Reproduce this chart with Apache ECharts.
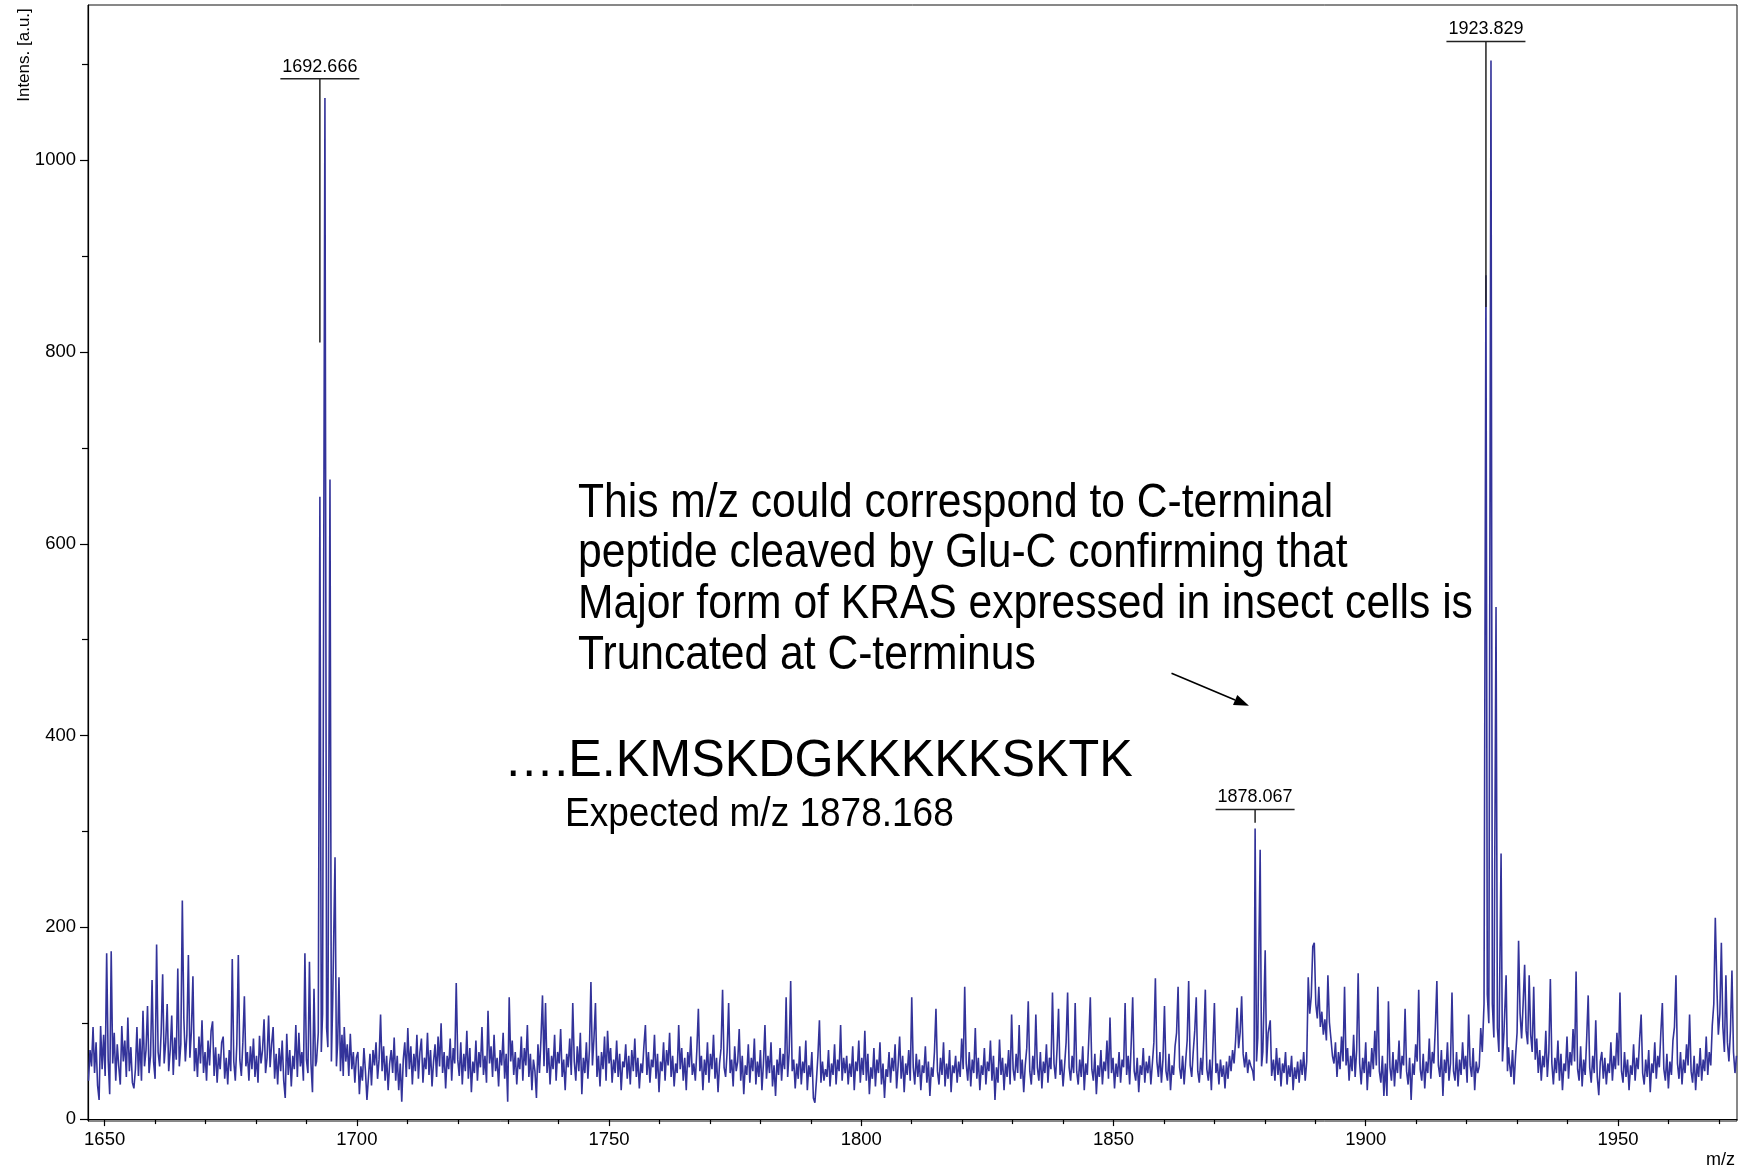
<!DOCTYPE html>
<html>
<head>
<meta charset="utf-8">
<title>MALDI spectrum m/z 1650-1970</title>
<script src="https://cdn.jsdelivr.net/npm/echarts@6/dist/echarts.min.js"></script>
<style>
  html, body { margin: 0; padding: 0; background: #fff; }
  #chart { width: 1738px; height: 1168px; }
</style>
</head>
<body>
<div id="chart"></div>
<script>
// ---- Spectrum data ----------------------------------------------------------
// Baseline trace sampled every 0.3 m/z; each block holds 100 samples starting
// at mzStart + 30 * blockIndex. null = covered by an isotope-cluster table below.
const mzStart = 1646.8;
const mzStep = 0.3;

const noise1646 = [
  40, 72, 55, 96, 48, 80, 35, 20, 97, 52,
  88, 45, 173, 62, 26, 175, 58, 90, 40, 78,
  55, 36, 97, 60, 82, 44, 106, 50, 75, 38,
  32, 52, 96, 45, 84, 40, 113, 55, 72, 118,
  48, 66, 145, 60, 42, 182, 70, 55, 90, 151,
  58, 80, 120, 50, 72, 108, 46, 85, 62, 157,
  55, 78, 228, 105, 60, 88, 171, 64, 92, 149,
  50, 74, 44, 86, 58, 103, 48, 70, 40, 82,
  56, 92, 102, 45, 75, 38, 68, 52, 80, 86,
  42, 64, 36, 72, 50, 167, 60, 40, 78, 171
];
const noise1676 = [
  62, 45, 80, 128, 55, 70, 40, 76, 52, 84,
  44, 66, 38, 87, 58, 72, 104, 48, 64, 108,
  54, 78, 96, 42, 68, 36, 74, 50, 82, 40,
  22, 89, 46, 72, 34, 66, 52, 98, 44, 90,
  55, 70, 40, 173, 62, 48, 164, 58, 28, 136,
  55, null, null, null, null, null, null, null, null, null,
  null, null, null, null, null, null, null, null, null, 96,
  60, 78, 45, 89, 52, 70, 38, 64, 70, 26,
  55, 40, 74, 50, 20, 44, 68, 35, 72, 56,
  80, 42, 62, 109, 50, 76, 40, 66, 30, 58
];
const noise1706 = [
  72, 48, 85, 40, 66, 30, 58, 18, 62, 80,
  44, 95, 52, 76, 36, 68, 50, 88, 42, 70,
  84, 38, 64, 52, 90, 46, 72, 34, 60, 78,
  44, 86, 55, 100, 48, 70, 32, 66, 52, 84,
  40, 74, 58, 142, 62, 45, 80, 36, 68, 50,
  92, 42, 74, 28, 60, 48, 82, 40, 70, 54,
  96, 46, 66, 38, 113, 58, 76, 44, 88, 50,
  64, 34, 72, 56, 90, 42, 68, 18, 127, 60,
  82, 46, 70, 36, 64, 52, 86, 40, 74, 56,
  98, 44, 68, 30, 62, 50, 22, 78, 48, 84
];
const noise1736 = [
  129, 55, 121, 48, 74, 36, 66, 52, 88, 40,
  70, 58, 94, 44, 62, 30, 68, 54, 84, 46,
  121, 60, 40, 76, 50, 90, 26, 64, 48, 80,
  42, 72, 143, 56, 84, 121, 44, 66, 34, 70,
  52, 86, 40, 92, 58, 74, 38, 62, 48, 82,
  44, 68, 30, 60, 54, 78, 42, 66, 36, 72,
  50, 84, 44, 64, 32, 58, 48, 76, 98, 46,
  70, 38, 62, 54, 88, 42, 68, 28, 60, 50,
  80, 40, 72, 56, 90, 44, 66, 34, 58, 48,
  98, 52, 74, 40, 64, 30, 70, 54, 86, 46
];
const noise1766 = [
  58, 40, 72, 115, 50, 66, 30, 62, 46, 80,
  38, 68, 52, 88, 42, 64, 28, 58, 74, 135,
  54, 44, 70, 121, 48, 62, 34, 76, 50, 60,
  94, 40, 66, 26, 56, 46, 78, 38, 64, 50,
  84, 36, 60, 44, 72, 30, 58, 98, 42, 66,
  48, 80, 34, 56, 24, 62, 46, 74, 40, 68,
  52, 127, 44, 70, 144, 50, 62, 32, 58, 42,
  76, 36, 60, 48, 82, 30, 56, 44, 70, 22,
  17, 40, 66, 103, 38, 60, 40, 52, 44, 72,
  34, 58, 46, 78, 36, 62, 50, 98, 40, 64
];
const noise1796 = [
  48, 66, 36, 58, 44, 76, 30, 60, 50, 82,
  38, 64, 46, 92, 40, 68, 26, 54, 42, 74,
  34, 62, 48, 80, 36, 58, 22, 52, 44, 70,
  38, 64, 50, 78, 32, 56, 86, 42, 66, 28,
  58, 46, 72, 40, 127, 54, 36, 68, 44, 62,
  30, 56, 48, 76, 38, 60, 24, 54, 44, 70,
  115, 50, 36, 64, 46, 80, 34, 58, 42, 72,
  28, 56, 48, 66, 38, 60, 44, 84, 52, 138,
  58, 40, 70, 34, 62, 48, 95, 42, 64, 30,
  56, 46, 74, 36, 60, 50, 82, 40, 66, 20
];
const noise1826 = [
  54, 38, 83, 46, 64, 30, 58, 44, 72, 36,
  109, 52, 40, 68, 48, 98, 42, 62, 28, 56,
  74, 123, 50, 36, 66, 46, 109, 54, 40, 70,
  32, 60, 48, 78, 38, 64, 52, 132, 58, 42,
  72, 115, 46, 62, 34, 56, 80, 132, 54, 40,
  66, 48, 121, 50, 36, 62, 44, 76, 30, 58,
  46, 84, 127, 52, 40, 68, 26, 56, 44, 72,
  36, 60, 50, 82, 42, 106, 48, 64, 32, 58,
  44, 70, 38, 62, 54, 121, 46, 66, 36, 78,
  127, 50, 40, 64, 28, 56, 46, 74, 38, 60
];
const noise1856 = [
  48, 66, 36, 58, 80, 147, 60, 44, 70, 38,
  62, 118, 50, 40, 68, 30, 56, 46, 76, 90,
  138, 54, 42, 66, 36, 60, 82, 144, 56, 44,
  70, 92, 127, 50, 38, 64, 46, 84, 135, 52,
  40, 62, 30, 74, 121, 48, 58, 36, 62, 44,
  56, 32, 60, 42, 66, 50, 72, 58, 82, 116,
  74, 90, 128, 68, 54, 70, 48, 62, 56, null,
  null, null, null, null, null, null, null, null, null, null,
  null, null, null, 62, 40, 74, 46, 64, 34, 58,
  48, 70, 36, 56, 44, 66, 30, 54, 42, 60
];
const noise1886 = [
  38, 62, 46, 70, 40, 60, 148, 110, 128, 180,
  184, 120, 105, 138, 96, 112, 88, 104, 82, 150,
  101, 84, 66, 58, 80, 44, 70, 52, 86, 60,
  138, 56, 74, 40, 66, 50, 88, 44, 72, 152,
  58, 36, 64, 48, 80, 30, 60, 44, 74, 52,
  92, 56, 138, 50, 38, 66, 24, 58, 24, 123,
  54, 40, 70, 34, 62, 48, 82, 42, 66, 56,
  115, 50, 36, 64, 20, 58, 46, 78, 60, 135,
  52, 40, 68, 32, 60, 48, 84, 42, 70, 58,
  96, 144, 56, 44, 72, 24, 62, 48, 80, 40
];
const noise1916 = [
  58, 132, 50, 40, 70, 34, 62, 46, 80, 52,
  66, 38, 109, 56, 44, 74, 30, 60, 48, null,
  null, null, null, null, null, null, null, null, null, null,
  null, null, null, null, null, null, null, null, null, 58,
  44, 72, 36, 66, 90, 186, 110, 84, 120, 161,
  92, 78, 150, 88, 70, 138, 62, 84, 48, 72,
  40, 66, 54, 92, 44, 70, 146, 58, 36, 64,
  48, 82, 40, 68, 30, 58, 50, 86, 42, 70,
  56, 94, 60, 154, 52, 40, 76, 34, 62, 46,
  84, 129, 54, 38, 66, 48, 103, 44, 25, 60
];
const noise1946 = [
  70, 42, 64, 36, 58, 48, 80, 40, 66, 52,
  90, 56, 132, 50, 38, 70, 44, 62, 30, 56,
  46, 78, 40, 64, 52, 84, 109, 48, 36, 62,
  44, 72, 28, 58, 48, 80, 42, 66, 54, 90,
  121, 52, 40, 68, 32, 60, 46, 82, 96, 150,
  58, 42, 70, 36, 62, 48, 78, 56, 109, 50,
  38, 66, 30, 58, 44, 74, 40, 62, 50, 86,
  46, 70, 56, 98, 120, 210, 140, 88, 110, 184,
  96, 70, 150, 80, 60, 92, 155, 70, 48, 66
];

// Isotope clusters as [m/z, intensity]
const clusterA = [
  [1692.0, 60], [1692.35, 90], [1692.67, 649], [1692.95, 70], [1693.2, 110],
  [1693.67, 1065], [1694.0, 95], [1694.25, 75], [1694.67, 667], [1694.95, 60],
  [1695.2, 120], [1695.67, 273], [1695.95, 55], [1696.2, 80], [1696.45, 148],
  [1696.75, 50], [1697.05, 88], [1697.3, 45]
];
const clusterC = [
  [1877.6, 50], [1877.85, 40], [1878.07, 303], [1878.35, 60], [1878.6, 85],
  [1879.07, 281], [1879.35, 55], [1879.6, 70], [1880.07, 176], [1880.35, 58],
  [1880.65, 90], [1881.07, 103], [1881.35, 45]
];
const clusterB = [
  [1922.5, 55], [1922.8, 95], [1923.1, 70], [1923.45, 120], [1923.83, 880],
  [1924.1, 130], [1924.4, 100], [1924.83, 1104], [1925.1, 120], [1925.4, 85],
  [1925.83, 534], [1926.1, 95], [1926.4, 70], [1926.83, 277], [1927.1, 60],
  [1927.4, 90], [1927.83, 150], [1928.1, 50], [1928.3, 75]
];

// Labelled peaks: [m/z, line bottom, label bar level]
const peakLabels = [
  [1692.666, 810, 1085],
  [1878.067, 309, 323],
  [1923.829, 847, 1124]
];

// Arrow from the note towards the 1878 peak: [m/z start, int start, m/z end, int end]
const noteArrow = [[1861.5, 465, 1876.85, 431]];

// Axis ticks
const xMajorTicks = [1650, 1700, 1750, 1800, 1850, 1900, 1950];
const xMinorTicks = [1660, 1670, 1680, 1690, 1710, 1720, 1730, 1740, 1760, 1770, 1780, 1790,
  1810, 1820, 1830, 1840, 1860, 1870, 1880, 1890, 1910, 1920, 1930, 1940, 1960, 1970];
const yMajorTicks = [0, 200, 400, 600, 800, 1000];
const yMinorTicks = [100, 300, 500, 700, 900, 1100];

// ---- Assemble the trace -----------------------------------------------------
const noiseBlocks = [noise1646, noise1676, noise1706, noise1736, noise1766, noise1796,
  noise1826, noise1856, noise1886, noise1916, noise1946];
const spectrum = [];
noiseBlocks.forEach((blk, k) => {
  blk.forEach((v, i) => {
    if (v !== null) spectrum.push([+(mzStart + (k * 100 + i) * mzStep).toFixed(2), v]);
  });
});
clusterA.concat(clusterB, clusterC).forEach(p => spectrum.push(p));
spectrum.sort((a, b) => a[0] - b[0]);

// ---- Chart ------------------------------------------------------------------
const FONT = '"Liberation Sans", Arial, Helvetica, sans-serif';
const plain = v => String(v);
const chart = echarts.init(document.getElementById('chart'), null, { renderer: 'canvas' });

const xBase = { type: 'value', min: 1646.7, max: 1973.6, gridIndex: 0, position: 'bottom', splitLine: { show: false } };
const yBase = { type: 'value', min: -2, max: 1162, gridIndex: 0, position: 'left', splitLine: { show: false } };

chart.setOption({
  animation: false,
  backgroundColor: '#fff',
  grid: {
    left: 88, right: 1, top: 5, bottom: 47,
    show: true, borderColor: '#111', borderWidth: 1,
    containLabel: false, outerBoundsMode: 'none'
  },
  xAxis: [
    Object.assign({}, xBase, {
      axisLine: { show: true, lineStyle: { color: '#000', width: 1.2 } },
      axisTick: { show: true, customValues: xMajorTicks, length: 7, lineStyle: { color: '#000', width: 1.2 } },
      axisLabel: { show: true, customValues: xMajorTicks, formatter: plain, margin: 9, color: '#000', fontSize: 18.5, fontFamily: FONT }
    }),
    Object.assign({}, xBase, {
      axisLine: { show: false },
      axisTick: { show: true, customValues: xMinorTicks, length: 5, lineStyle: { color: '#000', width: 1.2 } },
      axisLabel: { show: false }
    })
  ],
  yAxis: [
    Object.assign({}, yBase, {
      axisLine: { show: true, lineStyle: { color: '#000', width: 1.2 } },
      axisTick: { show: true, customValues: yMajorTicks, length: 8, lineStyle: { color: '#000', width: 1.2 } },
      axisLabel: { show: true, customValues: yMajorTicks, formatter: plain, margin: 12, color: '#000', fontSize: 18.5, fontFamily: FONT }
    }),
    Object.assign({}, yBase, {
      axisLine: { show: false },
      axisTick: { show: true, customValues: yMinorTicks, length: 6, lineStyle: { color: '#000', width: 1.2 } },
      axisLabel: { show: false }
    })
  ],
  series: [
    {
      name: 'spectrum',
      type: 'line',
      xAxisIndex: 0, yAxisIndex: 0,
      data: spectrum,
      showSymbol: false,
      symbol: 'none',
      silent: true,
      lineStyle: { color: '#33339a', width: 1.6 },
      z: 2
    },
    {
      name: 'peak labels',
      type: 'custom',
      xAxisIndex: 0, yAxisIndex: 0,
      data: peakLabels,
      silent: true,
      z: 5,
      renderItem: function (params, api) {
        const mz = api.value(0);
        const lo = api.coord([mz, api.value(1)]);
        const hi = api.coord([mz, api.value(2)]);
        return {
          type: 'group',
          children: [
            { type: 'line', shape: { x1: lo[0], y1: lo[1], x2: hi[0], y2: hi[1] }, style: { stroke: '#222', lineWidth: 1.5 } },
            { type: 'line', shape: { x1: hi[0] - 39.5, y1: hi[1], x2: hi[0] + 39.5, y2: hi[1] }, style: { stroke: '#222', lineWidth: 1.5 } },
            { type: 'text', x: hi[0], y: hi[1] - 3,
              style: { text: mz.toFixed(3), fill: '#000', font: '18px ' + FONT, align: 'center', verticalAlign: 'bottom' } }
          ]
        };
      }
    },
    {
      name: 'note arrow',
      type: 'custom',
      xAxisIndex: 0, yAxisIndex: 0,
      data: noteArrow,
      silent: true,
      z: 5,
      renderItem: function (params, api) {
        const p0 = api.coord([api.value(0), api.value(1)]);
        const p1 = api.coord([api.value(2), api.value(3)]);
        const ang = Math.atan2(p1[1] - p0[1], p1[0] - p0[0]);
        const len = 15, half = 5.5;
        const bx = p1[0] - len * Math.cos(ang), by = p1[1] - len * Math.sin(ang);
        const nx = -Math.sin(ang) * half, ny = Math.cos(ang) * half;
        return {
          type: 'group',
          children: [
            { type: 'line', shape: { x1: p0[0], y1: p0[1], x2: bx, y2: by }, style: { stroke: '#000', lineWidth: 1.6 } },
            { type: 'polygon', shape: { points: [[p1[0], p1[1]], [bx + nx, by + ny], [bx - nx, by - ny]] }, style: { fill: '#000' } }
          ]
        };
      }
    }
  ],
  graphic: [
    { type: 'text', x: 24, y: 55, rotation: Math.PI / 2,
      style: { text: 'Intens. [a.u.]', font: '17px ' + FONT, fill: '#000', align: 'center', verticalAlign: 'middle' } },
    { type: 'text', x: 1735, y: 1160,
      style: { text: 'm/z', font: '18px ' + FONT, fill: '#000', align: 'right', verticalAlign: 'middle' } },
    { type: 'text', x: 578, y: 504, scaleX: 0.8875,
      style: { text: 'This m/z could correspond to C-terminal', font: '48px ' + FONT, fill: '#000', align: 'left', verticalAlign: 'middle' } },
    { type: 'text', x: 578, y: 554, scaleX: 0.8875,
      style: { text: 'peptide cleaved by Glu-C confirming that', font: '48px ' + FONT, fill: '#000', align: 'left', verticalAlign: 'middle' } },
    { type: 'text', x: 578, y: 605, scaleX: 0.8875,
      style: { text: 'Major form of KRAS expressed in insect cells is', font: '48px ' + FONT, fill: '#000', align: 'left', verticalAlign: 'middle' } },
    { type: 'text', x: 578, y: 656, scaleX: 0.8875,
      style: { text: 'Truncated at C-terminus', font: '48px ' + FONT, fill: '#000', align: 'left', verticalAlign: 'middle' } },
    { type: 'text', x: 504, y: 762, scaleX: 0.967,
      style: { text: '….E.KMSKDGKKKKKSKTK', font: '52px ' + FONT, fill: '#000', align: 'left', verticalAlign: 'middle' } },
    { type: 'text', x: 565, y: 815, scaleX: 0.925,
      style: { text: 'Expected m/z 1878.168', font: '40px ' + FONT, fill: '#000', align: 'left', verticalAlign: 'middle' } }
  ]
});
</script>
</body>
</html>
